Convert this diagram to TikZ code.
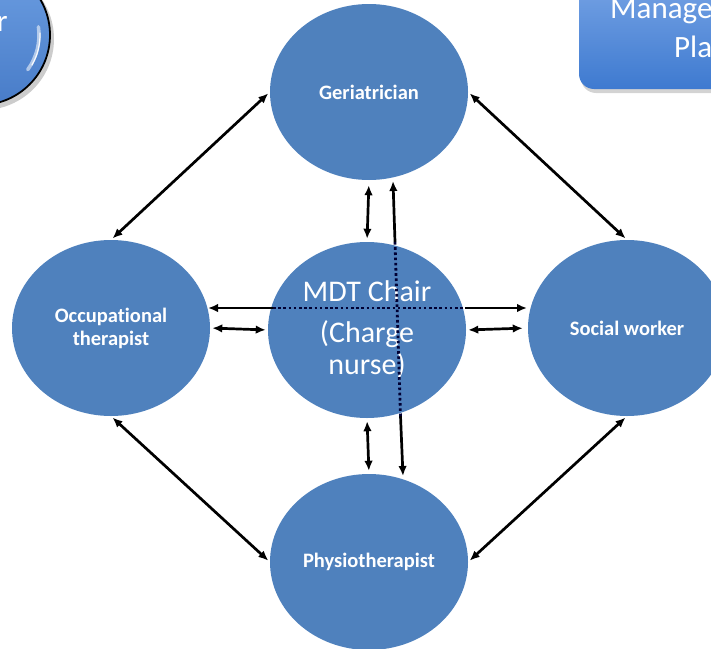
\documentclass[tikz,border=0pt]{standalone}
\usepackage{fontspec}
\setmainfont{Carlito}[Ligatures=NoCommon]
\usetikzlibrary{arrows.meta,shapes.geometric,shadows}
\definecolor{mdtblue}{RGB}{79,129,189}
\definecolor{boxtop}{RGB}{128,170,232}
\definecolor{boxbot}{RGB}{62,122,208}
\definecolor{balltop}{RGB}{108,158,226}
\definecolor{ballbot}{RGB}{72,124,200}
\tikzset{
  circ/.style={ellipse, fill=mdtblue, minimum width=198pt, minimum height=176pt,
    inner sep=0pt, text=white, align=center,
    font=\bfseries\fontsize{20.5}{23}\selectfont},
  arr/.style={line width=2.7pt, {Latex[length=10pt,width=8.5pt]}-{Latex[length=10pt,width=8.5pt]}},
  arrline/.style={line width=2.7pt},
  tipend/.style={-{Latex[length=10pt,width=8.5pt]}},
  tipstart/.style={{Latex[length=10pt,width=8.5pt]}-},
  dotline/.style={line width=2.8pt, black!80!blue, dash pattern=on 2.6pt off 2.6pt},
  bigtext/.style={text=white, font=\fontsize{31}{38}\selectfont, inner sep=0pt}
}
\begin{document}
\begin{tikzpicture}[x=1pt,y=-1pt]
\useasboundingbox (0,0) rectangle (711,648);

% top-left partial glossy circle
\fill[black, opacity=0.2] (-17,39) circle (71);
\draw[line width=1.8pt, top color=balltop, bottom color=ballbot] (-20,35) circle (70);
\draw[white, opacity=0.55, line width=3.5pt, line cap=round] (-20,35) ++(-8:59) arc[start angle=-8, end angle=36, radius=59];
\draw[white, opacity=0.9, line width=1.2pt, line cap=round] (-20,35) ++(-2:60) arc[start angle=-2, end angle=30, radius=60];
\node[bigtext, anchor=base east] (carer) at (8,31) {r};

% top-right rounded box
\draw[rounded corners=15pt, draw=none, top color=boxtop, bottom color=boxbot,
  drop shadow={shadow xshift=2pt, shadow yshift=-4pt, opacity=0.35}] (579,-40) rectangle (760,89);
\node[bigtext, anchor=base west] (mgmt) at (610,18) {Manage};
\node[bigtext, anchor=base west] (plan) at (674,57) {Pla};

% circles
\node[circ] (geri) at (369,92) {Geriatrician};
\node[circ] (occ) at (111,328) {Occupational\\therapist};
\node[circ] (social) at (627,328) {Social worker};
\node[circ] (physio) at (369,562) {Physiotherapist};
\node[circ, font=\fontsize{30}{32}\selectfont] (mdt) at (367,330) {MDT Chair\\[9pt](Charge\\nurse)};

% diagonal arrows
\draw[arr, shorten <=2pt, shorten >=2pt] (geri.west) -- (occ.north);
\draw[arr, shorten <=2pt, shorten >=2pt] (geri.east) -- (social.north);
\draw[arr, shorten <=2pt, shorten >=2pt] (occ.south) -- (physio.west);
\draw[arr, shorten <=2pt, shorten >=2pt] (social.south) -- (physio.east);

% short vertical arrows
\draw[arr, shorten <=5pt, shorten >=3pt] (geri.south) -- (mdt.north);
\draw[arr, shorten <=3pt, shorten >=3pt] (mdt.south) -- (physio.north);

% short horizontal arrows
\draw[arr, shorten <=2pt, shorten >=2pt] (occ.east) -- (mdt.west);
\draw[arr, shorten <=2pt, shorten >=5pt] (mdt.east) -- (social.west);

% long horizontal arrow (dotted through MDT)
\coordinate (hL) at (208,308);
\coordinate (hA) at (273,308);
\coordinate (hB) at (465,308);
\coordinate (hR) at (527,308);
\draw[arrline, tipstart] (hL) -- (hA);
\draw[arrline, tipend] (hB) -- (hR);

% long vertical arrow (dotted through MDT)
\coordinate (vT) at (393,181);
\coordinate (vA) at (395,242);
\coordinate (vB) at (400.5,416);
\coordinate (vD) at (403,476);
\draw[arrline, tipstart] (vT) -- (vA);
\draw[arrline, tipend] (vB) -- (vD);

\draw[dotline] (hA) -- (hB);
\draw[dotline] (vA) -- (vB);
\end{tikzpicture}
\end{document}
